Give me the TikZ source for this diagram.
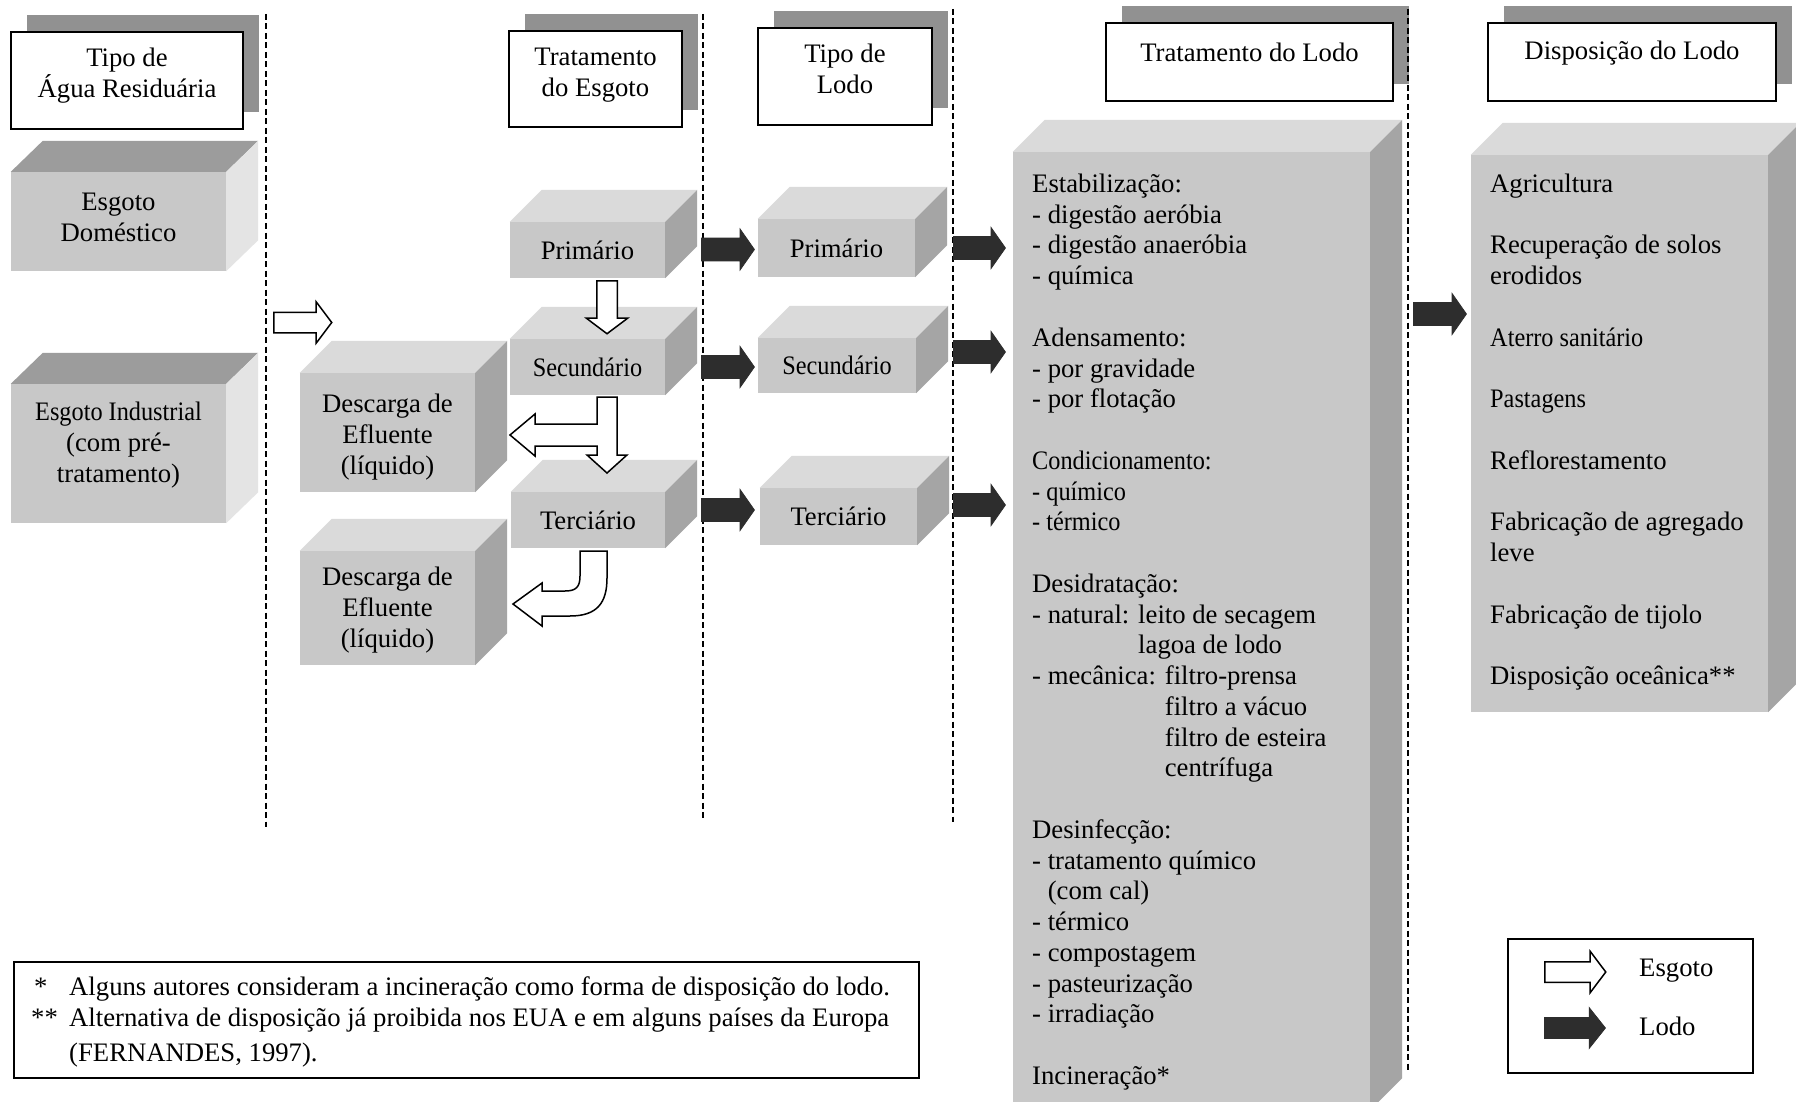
\documentclass[tikz,border=0pt]{standalone}
\usepackage{fontspec}
\setmainfont{Liberation Serif}
\usepackage{xcolor}
\definecolor{frontgray}{RGB}{200,200,200}
\definecolor{toplight}{RGB}{218,218,218}
\definecolor{sidedark}{RGB}{165,165,165}
\definecolor{topdark}{RGB}{156,156,156}
\definecolor{sidelight}{RGB}{228,228,228}
\definecolor{shadowgray}{RGB}{145,145,145}
\definecolor{lodogray}{RGB}{45,45,45}
\usetikzlibrary{calc}
\usetikzlibrary{shapes.arrows,shadows}
\newcommand{\narrow}[1]{{\addfontfeature{FakeStretch=0.91}#1}}

\begin{document}
\begin{tikzpicture}[x=1pt,y=-1pt,
  font=\fontsize{26.7}{31}\selectfont,
  hdr/.style={draw,line width=2.2pt,fill=white,inner sep=0pt,
    drop shadow={shadow xshift=16pt,shadow yshift=17pt,fill=shadowgray,opacity=1}},
  inlabel/.style={align=center,inner sep=0pt},
  slab/.style={fill=frontgray,align=center,inner sep=0pt},
  divider/.style={line width=2.2pt,dash pattern=on 6pt off 3.5pt},
  esgoto/.style={single arrow,draw=black,fill=white,line width=1.5pt,inner xsep=0pt,inner ysep=9.5pt,
    single arrow head extend=10.5pt,single arrow tip angle=106,minimum height=58pt,anchor=tail},
  esgline/.style={draw=black,fill=white,line width=1.5pt},
  lodo/.style={single arrow,draw=lodogray,fill=lodogray,line width=0.8pt,inner xsep=0pt,inner ysep=11pt,
    single arrow head extend=9pt,single arrow tip angle=110,minimum height=53pt,anchor=tail},
  boxline/.style={draw,line width=2pt,inner sep=0pt},
  txt/.style={anchor=base west,inner sep=0pt}
]
\fill[white] (0,0) rectangle (1796,1102);
\useasboundingbox (0,0) rectangle (1796,1102);

%column headers
\node (hAgua) at (127,80.5) [hdr,minimum width=232pt,minimum height=97pt,
  label={[inlabel,yshift=5pt]center:Tipo de\\Água Residuária}] {};
\node (hTratEsg) at (595.5,79) [hdr,minimum width=173pt,minimum height=96pt,
  label={[inlabel,yshift=4pt]center:Tratamento\\do Esgoto}] {};
\node (hTipoLodo) at (845,76.5) [hdr,minimum width=174pt,minimum height=97pt,
  label={[inlabel,yshift=8pt]center:Tipo de\\Lodo}] {};
\node (hTratLodo) at (1249.5,62) [hdr,minimum width=287pt,minimum height=78pt,
  label={[inlabel,yshift=10pt]center:Tratamento do Lodo}] {};
\node (hDisp) at (1632,62) [hdr,minimum width=288pt,minimum height=78pt,
  label={[inlabel,yshift=9pt]center:Disposição do Lodo}] {};

%sewage blocks
\node (domestico) at (118.5,221.5) [slab,minimum width=215pt,minimum height=99pt,
  label={[inlabel,yshift=4.5pt]center:Esgoto\\Doméstico}] {};
\node (industrial) at (118.5,453.5) [slab,minimum width=215pt,minimum height=139pt,
  label={[inlabel,yshift=8pt]center:\narrow{Esgoto Industrial}\\(com pré-\\tratamento)}] {};
\foreach \b in {domestico,industrial}{
  \fill[topdark] (\b.north west) -- ++(32,-31) -- ($(\b.north east)+(32,-31)$) -- (\b.north east) -- cycle;
  \fill[sidelight] (\b.north east) -- ++(32,-31) -- ($(\b.south east)+(32,-31)$) -- (\b.south east) -- cycle;
}

%treatment and sludge blocks
\node (primE) at (587.5,250) [slab,minimum width=155pt,minimum height=56pt] {Primário};
\node (secE) at (587.5,367) [slab,minimum width=155pt,minimum height=56pt] {\narrow{Secundário}};
\node (terE) at (588,520) [slab,minimum width=154pt,minimum height=56pt] {Terciário};
\node (desc1) at (387.5,432.5) [slab,minimum width=175pt,minimum height=119pt,
  label={[inlabel,yshift=-4.5pt]center:Descarga de\\Efluente\\(líquido)}] {};
\node (desc2) at (387.5,608) [slab,minimum width=175pt,minimum height=114pt,
  label={[inlabel,yshift=-2pt]center:Descarga de\\Efluente\\(líquido)}] {};
\node (primL) at (836.5,248) [slab,minimum width=157pt,minimum height=58pt] {Primário};
\node (secL) at (837,365.5) [slab,minimum width=158pt,minimum height=55pt] {\narrow{Secundário}};
\node (terL) at (838.5,516.5) [slab,minimum width=157pt,minimum height=57pt] {Terciário};
\node (tratL) at (1191.5,631) [slab,minimum width=357pt,minimum height=958pt] {};
\node (dispL) at (1619.5,433.5) [slab,minimum width=297pt,minimum height=557pt] {};
\foreach \b in {primE,secE,terE,desc1,desc2,primL,secL,terL,tratL,dispL}{
  \fill[toplight] (\b.north west) -- ++(32,-32) -- ($(\b.north east)+(32,-32)$) -- (\b.north east) -- cycle;
  \fill[sidedark] (\b.north east) -- ++(32,-32) -- ($(\b.south east)+(32,-32)$) -- (\b.south east) -- cycle;
}

%sludge treatment list
\foreach \i/\t in {0/Estabilização:,1/- digestão aeróbia,2/- digestão anaeróbia,3/- química,
    5/Adensamento:,6/- por gravidade,7/- por flotação,
    9/\narrow{Condicionamento:},10/\narrow{- químico},11/\narrow{- térmico},
    13/Desidratação:,14/- natural: leito de secagem,15/\hphantom{- natural: }lagoa de lodo,
    16/- mecânica: filtro-prensa,17/\hphantom{- mecânica: }filtro a vácuo,
    18/\hphantom{- mecânica: }filtro de esteira,19/\hphantom{- mecânica: }centrífuga,
    21/Desinfecção:,22/- tratamento químico,23/\hphantom{- }(com cal),24/- térmico,
    25/- compostagem,26/- pasteurização,27/- irradiação,29/Incineração*}{
  \node (tl\i) at (1032,{192.5+30.75*\i}) [txt] {\t};
}
%disposal list
\foreach \i/\t in {0/Agricultura,2/Recuperação de solos,3/erodidos,5/\narrow{Aterro sanitário},7/\narrow{Pastagens},
    9/Reflorestamento,11/Fabricação de agregado,12/leve,14/Fabricação de tijolo,16/Disposição oceânica**}{
  \node (dl\i) at (1490,{192.5+30.75*\i}) [txt] {\t};
}

%column dividers
\draw[divider] (266,14) -- (266,827);
\draw[divider] (703,14) -- (703,820);
\draw[divider] (953,9) -- (953,822);
\draw[divider] (1408,9) -- (1408,1070);

%sewage arrows
\node (eIn) at (273,322.5) [esgoto] {};
\node (ePS) at (607,280) [esgoto,rotate=-90,minimum height=53pt] {};
\draw[esgline] (597,397) -- (617,397) -- (617,455) -- (627,455) -- (607,473) -- (587,455) -- (597,455)
  -- (597,446) -- (535,446) -- (535,456) -- (510,435) -- (535,414) -- (535,424) -- (597,424) -- cycle;
\draw[esgline] (580,551) -- (580,576) .. controls (580,587) and (576,591) .. (565,591) -- (542,591)
  -- (542,583) -- (513,604) -- (542,626) -- (542,616) -- (570,616)
  .. controls (597,616) and (607,603) .. (607,578) -- (607,551) -- cycle;

%sludge arrows
\foreach \n/\x/\y/\l in {l1/701/249.5/53,l2/701/367/53,l3/701/510/53,
    l4/953/248/52,l5/953/352/52,l6/953/505/52,l7/1413/314/53}{
  \node (\n) at (\x,\y) [lodo,minimum height=\l pt] {};
}

%legend
\node (legend) at (1630.5,1006) [boxline,minimum width=245pt,minimum height=134pt] {};
\node (legE) at (1544,972) [esgoto,minimum height=61pt] {};
\node (legL) at (1544,1028) [lodo,minimum height=61pt,inner ysep=10pt,single arrow head extend=10pt,single arrow tip angle=103] {};
\node (legEt) at (1639,976) [txt] {Esgoto};
\node (legLt) at (1639,1035) [txt] {Lodo};

%footnotes
\node (notes) at (466.5,1020) [boxline,minimum width=905pt,minimum height=116pt] {};
\node (star1) at (34,995) [txt] {*};
\node (note1) at (69,995) [txt] {Alguns autores consideram a incineração como forma de disposição do lodo.};
\node (star2) at (31,1026) [txt] {**};
\node (note2) at (69,1026) [txt] {Alternativa de disposição já proibida nos EUA e em alguns países da Europa};
\node (note3) at (69,1061) [txt] {(FERNANDES, 1997).};
\end{tikzpicture}
\end{document}
